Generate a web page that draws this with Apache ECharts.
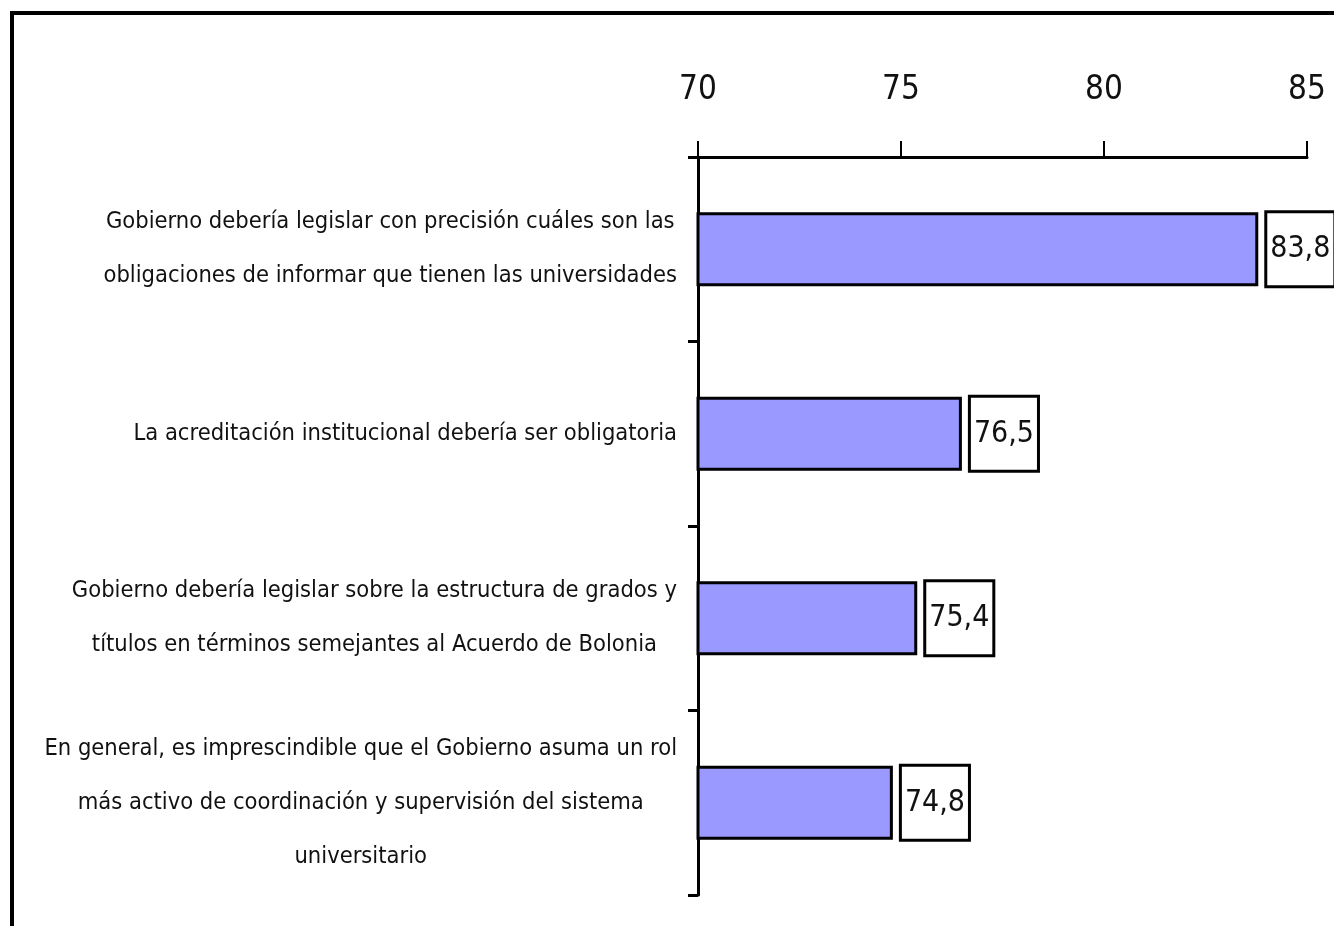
<!DOCTYPE html>
<html>
<head>
<meta charset="utf-8">
<script src="https://cdn.jsdelivr.net/npm/echarts@6/dist/echarts.min.js"></script>
<style>
  html, body { margin: 0; padding: 0; background: #fff; }
  #chart { width: 1334px; height: 926px; }
</style>
</head>
<body>
<div id="chart"></div>
<script>
// categorías (de arriba hacia abajo) y porcentajes
var categorias = [
  'Gobierno debería legislar con precisión cuáles son las\nobligaciones de informar que tienen las universidades',
  'La acreditación institucional debería ser obligatoria',
  'Gobierno debería legislar sobre la estructura de grados y\ntítulos en términos semejantes al Acuerdo de Bolonia',
  'En general, es imprescindible que el Gobierno asuma un rol\nmás activo de coordinación y supervisión del sistema\nuniversitario'
];
var valores = [83.8, 76.5, 75.4, 74.8];
var ticks = [70, 75, 80, 85];

var fuente = "'Liberation Sans Narrow', 'Arial Narrow', 'DejaVu Sans Condensed', 'Liberation Sans', sans-serif";

var chart = echarts.init(document.getElementById('chart'));

var option = {
  backgroundColor: '#fff',
  animation: false,
  // marco exterior
  graphic: [{
    type: 'rect',
    silent: true,
    shape: { x: 12, y: 13, width: 2000, height: 2000 },
    style: { fill: 'none', stroke: '#000', lineWidth: 4 }
  }],
  grid: { left: 698, right: 27, top: 157, bottom: 31, containLabel: false, outerBoundsMode: 'none' },
  xAxis: {
    type: 'value',
    position: 'top',
    min: ticks[0],
    max: ticks[ticks.length - 1],
    interval: 5,
    axisLine: { show: true, lineStyle: { color: '#000', width: 3 } },
    axisTick: { show: true, length: 16, lineStyle: { color: '#000', width: 2 } },
    splitLine: { show: false },
    axisLabel: { margin: 50, fontSize: 33, color: '#111', fontFamily: fuente }
  },
  yAxis: {
    type: 'category',
    inverse: true,
    data: categorias,
    axisLine: { show: true, lineStyle: { color: '#000', width: 3 } },
    axisTick: { show: true, length: 10, lineStyle: { color: '#000', width: 3 } },
    axisLabel: {
      margin: 21,
      color: '#111',
      fontFamily: fuente,
      fontSize: 23.5,
      lineHeight: 54,
      formatter: function (v) {
        return v.split('\n').map(function (l) { return '{c|' + l + '}'; }).join('\n');
      },
      rich: {
        c: { align: 'center', fontFamily: fuente, fontSize: 23.5, lineHeight: 54, color: '#111' }
      }
    }
  },
  series: [{
    type: 'bar',
    data: valores,
    barWidth: 74,
    itemStyle: { color: '#9999FF', borderColor: '#000', borderWidth: 3 },
    label: {
      show: true,
      position: 'right',
      distance: 9,
      color: '#111',
      fontFamily: fuente,
      fontSize: 30,
      backgroundColor: '#fff',
      borderColor: '#000',
      borderWidth: 3,
      padding: [21, 3, 21, 3],
      formatter: function (p) { return String(p.value).replace('.', ','); }
    }
  }]
};

chart.setOption(option);
</script>
</body>
</html>
